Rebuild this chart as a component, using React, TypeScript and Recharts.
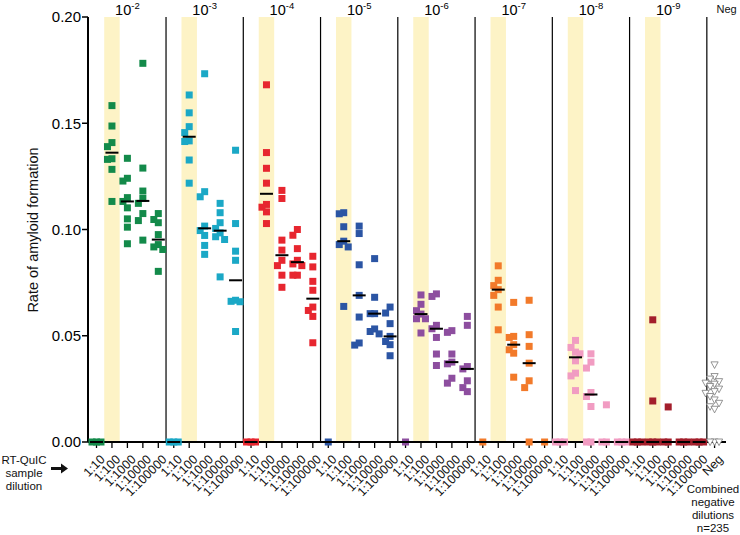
import { ScatterChart, Scatter, XAxis, YAxis, ReferenceLine, ReferenceArea } from 'recharts';

// dilution of the sample (bottom ticks) and the seed dilution of each group (top labels)
const dilutions = ['1:10', '1:100', '1:1000', '1:10000', '1:100000'];
const exponents = ['-2', '-3', '-4', '-5', '-6', '-7', '-8', '-9'];
const colors = ['#138a4a', '#1ba8c6', '#e7262f', '#2b55a4', '#8d4e9f', '#f27a2a', '#f19cc2', '#a31e2b'];

// rate of amyloid formation, one array per sample dilution
const e2 = [
  [0, 0, 0],
  [0.1583, 0.1487, 0.1409, 0.139, 0.1333, 0.133, 0.1283, 0.1132],
  [0.1335, 0.1241, 0.1228, 0.115, 0.1132, 0.1102, 0.105, 0.1011, 0.0933],
  [0.1782, 0.1289, 0.1181, 0.1146, 0.1123, 0.1075, 0.1042, 0.095],
  [0.1075, 0.1047, 0.1032, 0.0976, 0.0929, 0.0918, 0.0906, 0.0803],
];
const e3 = [
  [0, 0, 0],
  [0.1633, 0.1549, 0.1484, 0.1456, 0.1417, 0.1414, 0.1327, 0.1218],
  [0.1733, 0.1178, 0.1154, 0.1016, 0.0995, 0.0972, 0.0925, 0.0883],
  [0.1123, 0.1079, 0.1032, 0.1005, 0.0984, 0.0966, 0.0953, 0.0777],
  [0.1373, 0.1028, 0.0898, 0.0855, 0.0667, 0.0662, 0.066, 0.052],
];
const e4 = [
  [0, 0, 0],
  [0.1681, 0.1362, 0.1288, 0.1218, 0.1118, 0.1105, 0.1083, 0.1028],
  [0.1184, 0.1146, 0.095, 0.0903, 0.0855, 0.083, 0.0785, 0.0728],
  [0.1, 0.0973, 0.091, 0.0855, 0.0838, 0.083, 0.0785, 0.0785],
  [0.0874, 0.0824, 0.0756, 0.0714, 0.0635, 0.0619, 0.0591, 0.0467],
];
const e5 = [
  [0],
  [0.1079, 0.1074, 0.1013, 0.0945, 0.0929, 0.0918, 0.0638],
  [0.1016, 0.0981, 0.0834, 0.069, 0.0588, 0.0466, 0.0456],
  [0.0863, 0.0681, 0.0604, 0.0604, 0.0532, 0.052, 0.0509],
  [0.0635, 0.0607, 0.0557, 0.0497, 0.0473, 0.0458, 0.0406],
];
const e6 = [
  [0],
  [0.0692, 0.0648, 0.0618, 0.0602, 0.058, 0.058, 0.0513],
  [0.0697, 0.0685, 0.0549, 0.0533, 0.0492, 0.0414, 0.036],
  [0.0524, 0.0516, 0.0414, 0.0376, 0.0368, 0.03, 0.0277],
  [0.0591, 0.0549, 0.0355, 0.0344, 0.0288, 0.0256, 0.0237],
];
const e7 = [
  [0],
  [0.0829, 0.0761, 0.0736, 0.0717, 0.069, 0.0635, 0.0528],
  [0.0657, 0.0497, 0.0492, 0.0458, 0.0434, 0.0418, 0.0305],
  [0.0667, 0.0505, 0.045, 0.0371, 0.0288, 0.0256, 0],
  [0],
];
const e8 = [
  [0, 0, 0],
  [0.0478, 0.0445, 0.0423, 0.0415, 0.0382, 0.0324, 0.0311, 0.0242],
  [0.0415, 0.0376, 0.0348, 0.0233, 0.0214, 0.0167, 0, 0],
  [0.0175, 0, 0],
  [0, 0, 0],
];
const e9 = [
  [0, 0, 0],
  [0.0575, 0.0193, 0, 0, 0],
  [0.0165, 0, 0],
  [0, 0, 0],
  [0, 0, 0],
];
const negValues = [0.0363, 0.0308, 0.0296, 0.0284, 0.0277, 0.0272, 0.0261, 0.0249, 0.0237, 0.0229, 0.0214, 0.0198, 0.0182, 0.0166, 0.0154, 0, 0, 0];

const groups = [e2, e3, e4, e5, e6, e7, e8, e9];
const yTicks = [0, 0.05, 0.1, 0.15, 0.2];

const W = 740;
const H = 535;
const FONT = '"Liberation Sans", Arial, sans-serif';
const NEG = groups.length * dilutions.length;
const xDomain = [-0.55, NEG + 0.74];

// spread points that would overlap, like a small beeswarm
const SPREAD = 0.29;
const YTOL = 0.0034;
function swarm(center: number, values: number[]) {
  const placed: { o: number; y: number }[] = [];
  const order = [0, -1, 1, -2, 2, -3, 3];
  return values.map((v) => {
    let k = 0;
    for (const o of order) {
      if (!placed.some((p) => p.o === o && Math.abs(p.y - v) < YTOL)) {
        k = o;
        break;
      }
    }
    placed.push({ o: k, y: v });
    return { x: center + k * SPREAD, y: v };
  });
}

function median(values: number[]) {
  const s = [...values].sort((a, b) => a - b);
  const m = Math.floor(s.length / 2);
  return s.length % 2 ? s[m] : (s[m - 1] + s[m]) / 2;
}

const groupData = groups.map((g, gi) =>
  g.flatMap((vals, di) => swarm(gi * dilutions.length + di, vals))
);
const negData = swarm(NEG, negValues);
const medianData = groups.flatMap((g, gi) =>
  g.map((vals, di) => ({ x: gi * dilutions.length + di, y: median(vals) }))
);

const bottomTicks = Array.from({ length: NEG + 1 }, (_, i) => i);
const topTicks = [...groups.map((_, gi) => gi * dilutions.length + 2), NEG];

const Square = (p: any) => (
  <rect x={p.cx - 3.5} y={p.cy - 3.5} width={7} height={7} fill={p.fill} />
);
const Triangle = (p: any) => (
  <path
    d={`M${p.cx - 3.6},${p.cy - 3} L${p.cx + 3.6},${p.cy - 3} L${p.cx},${p.cy + 3.6} Z`}
    fill="#fff"
    stroke="#7a7a7a"
    strokeWidth={0.8}
  />
);
const MedianBar = (p: any) => (
  <line x1={p.cx - 6.5} x2={p.cx + 6.5} y1={p.cy} y2={p.cy} stroke="#000" strokeWidth={2} />
);

const BottomTick = (p: any) => {
  const i = p.payload.value;
  const label = i === NEG ? 'Neg' : dilutions[i % dilutions.length];
  const x = p.x + 3;
  const y = p.y + 4;
  return (
    <text x={x} y={y} transform={`rotate(-45 ${x} ${y})`} textAnchor="end" dy="0.7em"
      fontSize={12.5} fontFamily={FONT} fill="#111">
      {label}
    </text>
  );
};

const TopTick = (p: any) => {
  const i = p.payload.value;
  if (i === NEG) {
    return (
      <text x={p.x + 12} y={13} textAnchor="middle" fontSize={11} fontFamily={FONT} fill="#111">Neg</text>
    );
  }
  const exp = exponents[Math.floor(i / dilutions.length)];
  return (
    <text x={p.x} y={15} textAnchor="middle" fontSize={14.5} fontFamily={FONT} fill="#000">
      10<tspan fontSize={9.5} dy={-6}>{exp}</tspan>
    </text>
  );
};

export default function App() {
  return (
    <div style={{ position: 'relative', width: W, height: H, background: '#fff' }}>
      <style>{'body{margin:0}'}</style>
      <ScatterChart width={W} height={H} margin={{ top: 0, right: 14, bottom: 33, left: 28 }}>
        <XAxis
          type="number"
          dataKey="x"
          domain={xDomain}
          ticks={bottomTicks}
          interval={0}
          tick={BottomTick}
          tickSize={6}
          height={60}
          axisLine={{ stroke: '#000', strokeWidth: 2 }}
          tickLine={{ stroke: '#000', strokeWidth: 1.3 }}
        />
        <XAxis
          xAxisId="top"
          orientation="top"
          type="number"
          dataKey="x"
          domain={xDomain}
          allowDataOverflow
          ticks={topTicks}
          interval={0}
          tick={TopTick}
          axisLine={false}
          tickLine={false}
          height={17}
        />
        <YAxis
          type="number"
          dataKey="y"
          domain={[0, 0.2]}
          ticks={yTicks}
          tickFormatter={(v: number) => v.toFixed(2)}
          width={60}
          tickSize={6}
          tickMargin={1}
          tick={{ fontSize: 15, fill: '#000', fontFamily: FONT }}
          axisLine={{ stroke: '#000', strokeWidth: 2 }}
          tickLine={{ stroke: '#000', strokeWidth: 1.5 }}
        />
        {groups.map((_, gi) => (
          <ReferenceArea
            key={`band-${gi}`}
            x1={gi * dilutions.length + 0.5}
            x2={gi * dilutions.length + 1.5}
            fill="#fdf3c6"
            fillOpacity={1}
            stroke="none"
          />
        ))}
        {groups.map((_, gi) => (
          <ReferenceLine
            key={`sep-${gi}`}
            x={(gi + 1) * dilutions.length - 0.5}
            stroke="#000"
            strokeWidth={1.2}
          />
        ))}
        {groupData.map((d, gi) => (
          <Scatter
            key={`g-${gi}`}
            data={d}
            fill={colors[gi]}
            shape={Square}
            isAnimationActive={false}
          />
        ))}
        <Scatter data={negData} shape={Triangle} isAnimationActive={false} />
        <Scatter data={medianData} shape={MedianBar} isAnimationActive={false} />
      </ScatterChart>
      <svg width={W} height={H} style={{ position: 'absolute', left: 0, top: 0, pointerEvents: 'none' }}>
        <text x={38} y={230} transform="rotate(-90 38 230)" textAnchor="middle" fontSize={14.5} fontFamily={FONT} fill="#111">
          Rate of amyloid formation
        </text>
        <g fontSize={11.5} fontFamily={FONT} fill="#111" textAnchor="middle">
          <text x={24} y={464}>RT-QuIC</text>
          <text x={24} y={477}>sample</text>
          <text x={24} y={490}>dilution</text>
        </g>
        <path d="M51,467 L61,467 L61,463.5 L68,468.5 L61,473.5 L61,470 L51,470 Z" fill="#111" />
        <g fontSize={11.5} fontFamily={FONT} fill="#111" textAnchor="middle">
          <text x={713} y={493}>Combined</text>
          <text x={713} y={506}>negative</text>
          <text x={713} y={519}>dilutions</text>
          <text x={713} y={532}>n=235</text>
        </g>
      </svg>
    </div>
  );
}
